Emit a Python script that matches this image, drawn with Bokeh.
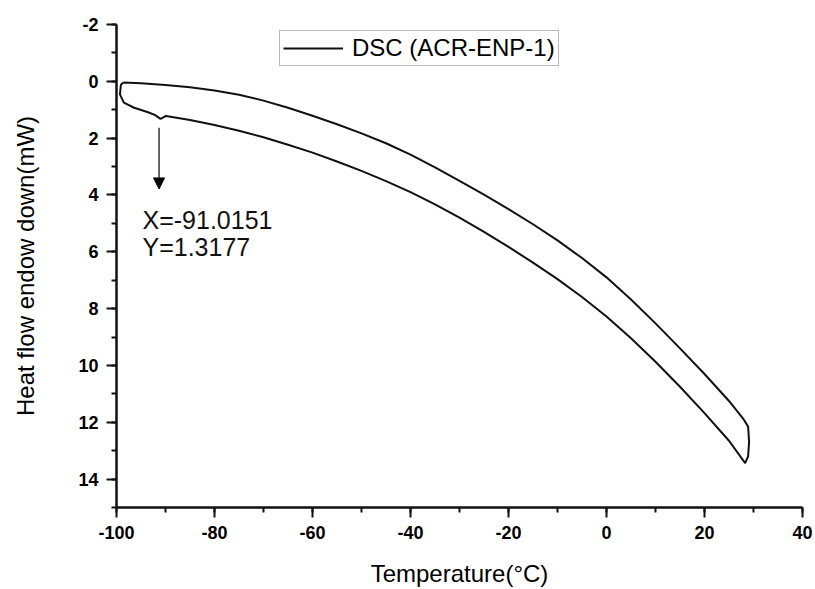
from bokeh.plotting import figure
from bokeh.models import Range1d, Label, Arrow, NormalHead
from bokeh.embed import file_html
from bokeh.resources import INLINE

# ---- data ----
upper_temp = [-98.6, -95, -90, -85, -80, -75, -70, -65, -60, -55, -50, -45, -40,
              -35, -30, -25, -20, -15, -10, -5, 0, 5, 10, 15, 20, 25, 28.0, 28.9,
              29.1, 28.9, 28.3]
upper_flow = [0.04, 0.07, 0.13, 0.21, 0.32, 0.47, 0.68, 0.93, 1.21, 1.51, 1.83, 2.18, 2.58,
              3.03, 3.50, 3.99, 4.50, 5.03, 5.60, 6.22, 6.90, 7.68, 8.52, 9.40, 10.30, 11.25,
              11.90, 12.15, 12.7, 13.2, 13.44]
lower_temp = [25, 20, 15, 10, 5, 0, -5, -10, -15, -20, -25, -30, -35, -40, -45,
              -50, -55, -60, -65, -70, -75, -80, -85, -89.9, -91.0, -92.2, -93.7, -96.4,
              -98.5, -99.3, -99.1, -98.6]
lower_flow = [12.65, 11.68, 10.75, 9.87, 9.04, 8.28, 7.59, 6.96, 6.38, 5.83, 5.30, 4.80, 4.33,
              3.90, 3.51, 3.15, 2.82, 2.51, 2.23, 1.97, 1.74, 1.54, 1.36, 1.22, 1.32, 1.18, 1.08,
              0.93, 0.75, 0.46, 0.12, 0.04]
marker_x = -91.0151
marker_y = 1.3177
series_label = "DSC (ACR-ENP-1)"
x_ticks = [-100, -80, -60, -40, -20, 0, 20, 40]
y_ticks = [-2, 0, 2, 4, 6, 8, 10, 12, 14]

temp = upper_temp + lower_temp
flow = upper_flow + lower_flow

FONT = "Liberation Sans"

p = figure(width=815, height=589, output_backend="svg", toolbar_location=None,
           x_range=Range1d(x_ticks[0], x_ticks[-1]), y_range=Range1d(15, y_ticks[0]),
           min_border_left=116, min_border_right=13, min_border_top=24,
           min_border_bottom=78)
p.outline_line_color = None
p.xgrid.grid_line_color = None
p.ygrid.grid_line_color = None

p.line(temp, flow, line_color="#111111", line_width=2, legend_label=series_label)

for ax, ticks, n in ((p.xaxis[0], x_ticks, 7), (p.yaxis[0], y_ticks, 9)):
    ax.ticker.desired_num_ticks = n
    ax.ticker.num_minor_ticks = 2
    ax.major_label_overrides = {t: str(t) for t in ticks}
    ax.axis_line_width = 2.5
    ax.axis_line_color = "#111111"
    ax.major_tick_line_color = "#111111"
    ax.minor_tick_line_color = "#111111"
    ax.major_tick_line_width = 2
    ax.minor_tick_line_width = 2
    ax.major_tick_out = 10
    ax.major_tick_in = 0
    ax.minor_tick_out = 5
    ax.minor_tick_in = 0
    ax.major_label_text_font = FONT
    ax.major_label_text_font_style = "bold"
    ax.major_label_text_font_size = "18px"
    ax.major_label_text_color = "black"
    ax.axis_label_text_font = FONT
    ax.axis_label_text_font_style = "normal"
    ax.axis_label_text_font_size = "24px"
    ax.axis_label_text_color = "black"
    ax.major_label_standoff = 8

p.xaxis.axis_label = "Temperature(°C)"
p.xaxis.axis_label_standoff = 18
p.yaxis.axis_label = "Heat flow endow down(mW)"
p.yaxis.axis_label_standoff = 36

leg = p.legend[0]
leg.location = (163, 441)
leg.margin = 0
leg.padding = 3
leg.spacing = 0
leg.glyph_width = 60
leg.glyph_height = 20
leg.label_height = 20
leg.label_standoff = 9
leg.label_text_font = FONT
leg.label_text_font_size = "24px"
leg.label_text_color = "black"
leg.border_line_color = "#707070"
leg.border_line_width = 1.5
leg.background_fill_alpha = 1

p.add_layout(Arrow(end=NormalHead(size=11, fill_color="black", line_color="black"),
                   x_start=marker_x - 0.3, y_start=marker_y + 0.32,
                   x_end=marker_x - 0.3, y_end=marker_y + 2.47,
                   line_color="black", line_width=1.2))

p.add_layout(Label(x=-94.7, y=4.89, text=f"X={marker_x}", text_font=FONT,
                   text_font_size="25px", text_baseline="alphabetic", text_color="#111111"))
p.add_layout(Label(x=-94.7, y=5.82, text=f"Y={marker_y}", text_font=FONT,
                   text_font_size="25px", text_baseline="alphabetic", text_color="#111111"))

open("out.html", "w").write(file_html(p, INLINE))
